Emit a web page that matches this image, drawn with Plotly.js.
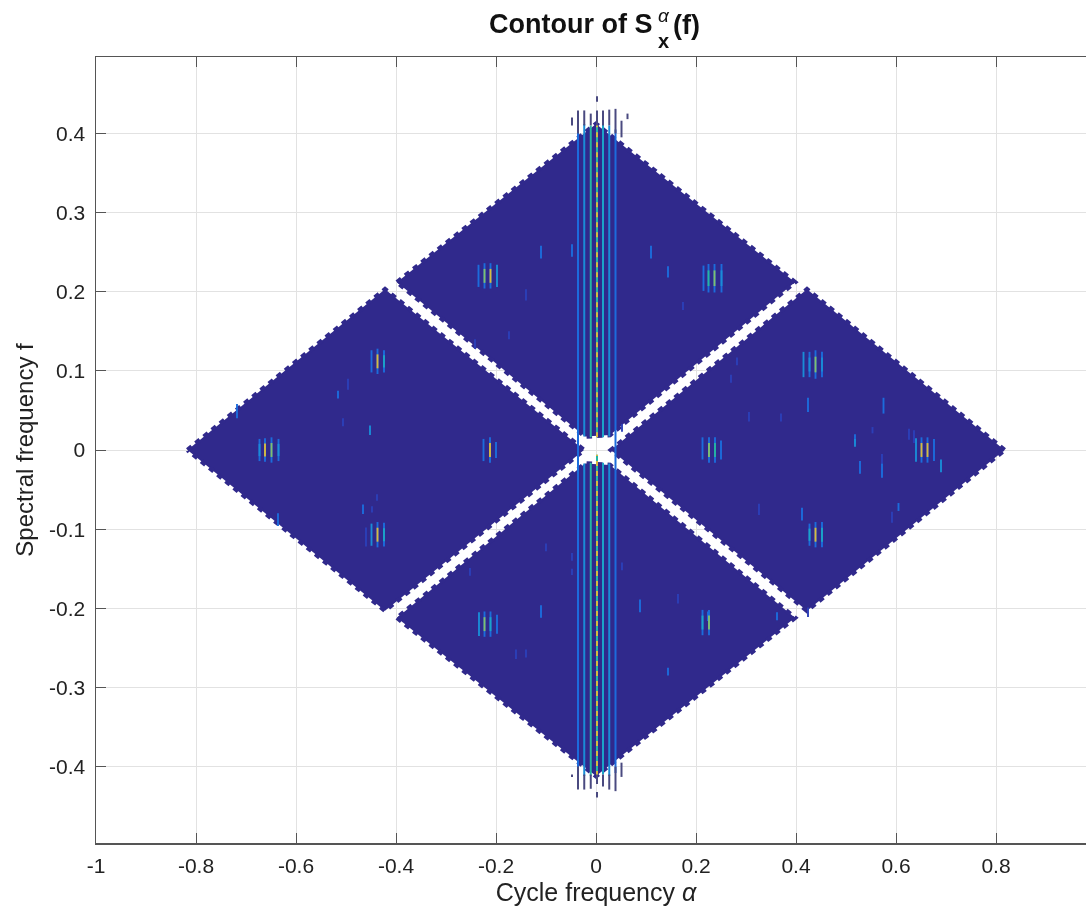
<!DOCTYPE html>
<html><head><meta charset="utf-8">
<script src="https://cdn.plot.ly/plotly-3.0.1.min.js"></script>
<style>html,body{margin:0;padding:0;background:#fff;overflow:hidden;width:1086px;height:911px}
#chart{filter:blur(0.45px)}</style>
</head><body><div id="chart"></div>
<script>
// tick labels
const xTicks = [-1,-0.8,-0.6,-0.4,-0.2,0,0.2,0.4,0.6,0.8];
const xLabels = ['-1','-0.8','-0.6','-0.4','-0.2','0','0.2','0.4','0.6','0.8'];
const yTicks = [-0.4,-0.3,-0.2,-0.1,0,0.1,0.2,0.3,0.4];
const yLabels = ['-0.4','-0.3','-0.2','-0.1','0','0.1','0.2','0.3','0.4'];

// the four diamond regions: alpha, f of their corners
const topAlpha = [-0.398,0.0,0.398,0.028,-0.022,-0.398];
const topF     = [0.212,0.412,0.212,0.019,0.017,0.212];
const botAlpha = [-0.398,0.0,0.398,0.028,-0.022,-0.398];
const botF     = [-0.212,-0.412,-0.212,-0.019,-0.017,-0.212];
const leftAlpha  = [-0.817,-0.422,-0.024,-0.422,-0.817];
const leftF      = [0,0.203,0,-0.203,0];
const rightAlpha = [0.817,0.422,0.03,0.422,0.817];
const rightF     = [0,0.203,0,-0.203,0];

// parula colour stops used for the spectrum level (0..1)
const levelStops = [[0,'#30298c'],[0.15,'#2c3fb8'],[0.3,'#1c6cdc'],[0.4,'#1a8cd6'],[0.5,'#1ba4c8'],[0.6,'#25b5a2'],[0.7,'#7fbf70'],[0.8,'#d8ba3f'],[0.9,'#f4bb3a'],[1,'#f9f320']];

// short spectral lines: alpha, f centre, half height in f, level
const spotAlpha = [
 -0.673,-0.662,-0.649,-0.635, -0.449,-0.437,-0.424, -0.449,-0.437,-0.424,-0.46,
 -0.235,-0.223,-0.211,-0.198, -0.234,-0.223,-0.211,-0.198, -0.225,-0.212,-0.2,
 0.215,0.225,0.237,0.251, 0.213,0.226,0.238,0.25, 0.213,0.226,
 0.415,0.427,0.439,0.452, 0.427,0.439,0.452, 0.64,0.651,0.663,0.676,0.626,0.69,
 -0.11,-0.048,0.11,0.144,0.282,0.326,0.412,0.424,0.306,0.052,0.37,
 0.518,0.518,0.528,0.572,0.592,0.605,0.575,0.636,0.553,0.572,
 -0.718,-0.636,-0.516,-0.496,-0.506,-0.452,-0.466,-0.448,-0.438,
 -0.242,-0.14,-0.174,-0.252,-0.048,-0.1,-0.16,-0.14,-0.11,
 0.052,0.088,0.164,0.424,0.362,0.224,0.174,0.27,-0.048,0.144
];
const spotF = [
 0,0,0,0, 0.112,0.112,0.112, -0.107,-0.107,-0.107,-0.11,
 0.22,0.22,0.22,0.22, -0.22,-0.22,-0.22,-0.22, 0,0,0,
 0.217,0.217,0.217,0.217, 0.002,0,0,0, -0.218,-0.218,
 0.108,0.108,0.108,0.108, -0.107,-0.107,-0.107, 0,0,0,0,0.02,-0.02,
 0.25,0.252,0.25,0.225,0.112,-0.075,-0.081,0.057,0.042,0.028,0.041,
 0.014,0.009,-0.022,-0.026,-0.085,-0.072,0.056,0.017,0.025,-0.011,
 0.049,-0.088,0.07,0.083,0.035,0.025,-0.075,-0.075,-0.06,
 0.134,0.196,0.145,-0.154,-0.154,-0.123,-0.258,-0.257,-0.204,
 -0.147,-0.197,-0.188,-0.205,-0.21,-0.21,0.182,0.09,-0.135,-0.28
];
const spotHalf = [
 0.014,0.015,0.016,0.014, 0.014,0.016,0.014, 0.014,0.016,0.015,0.012,
 0.014,0.016,0.016,0.014, 0.015,0.016,0.016,0.012, 0.014,0.016,0.01,
 0.016,0.018,0.018,0.018, 0.014,0.016,0.016,0.012, 0.016,0.016,
 0.016,0.016,0.018,0.016, 0.014,0.016,0.016, 0.015,0.016,0.016,0.014,0.007,0.008,
 0.008,0.008,0.008,0.007,0.005,0.007,0.008,0.009,0.006,0.005,0.005,
 0.006,0.005,0.008,0.009,0.007,0.005,0.01,0.008,0.004,0.006,
 0.009,0.008,0.005,0.007,0.005,0.006,0.006,0.004,0.004,
 0.006,0.007,0.005,0.005,0.004,0.005,0.006,0.005,0.008,
 0.005,0.008,0.006,0.006,0.005,0.006,0.005,0.005,0.005,0.005
];
const spotLevel = [
 0.4,0.78,0.68,0.42, 0.35,0.78,0.5, 0.36,0.78,0.5,0.2,
 0.3,0.72,0.82,0.36, 0.36,0.72,0.5,0.26, 0.34,0.8,0.3,
 0.26,0.56,0.74,0.42, 0.32,0.75,0.62,0.25, 0.52,0.66,
 0.36,0.42,0.72,0.42, 0.46,0.78,0.5, 0.36,0.82,0.76,0.32,0.22,0.36,
 0.3,0.3,0.28,0.25,0.2,0.18,0.3,0.3,0.2,0.15,0.15,
 0.35,0.36,0.3,0.3,0.18,0.3,0.28,0.2,0.2,0.2,
 0.3,0.35,0.3,0.16,0.16,0.36,0.26,0.16,0.2,
 0.16,0.2,0.15,0.16,0.18,0.16,0.2,0.22,0.3,
 0.16,0.3,0.2,0.15,0.3,0.3,0.22,0.2,0.2,0.28
];

// the seven central vertical lines
const stripeAlpha = [-0.036,-0.0235,-0.0105,0.002,0.014,0.0265,0.039];
const stripeLevel = [0.3,0.42,0.56,0.6,0.52,0.44,0.32];
const stripeTop    = [0.405,0.412,0.41,0.412,0.412,0.41,0.405];
const stripeBottom = [-0.405,-0.412,-0.412,-0.412,-0.41,-0.412,-0.408];
const stripeGapTop    = [0,0.017,0.016,0.016,0.016,0.017,0];
const stripeGapBottom = [0,-0.017,-0.016,-0.006,-0.016,-0.017,0];

// dark tips that stick out past the diamond's top and bottom
const tipAlpha = [-0.036,-0.0235,-0.0105,0.002,0.002,0.014,0.0265,0.039,0.051,0.063,-0.048,
                  -0.036,-0.0235,-0.0105,0.002,0.002,0.014,0.0265,0.039,0.051,-0.048];
const tipStart = [0.4,0.41,0.41,0.41,0.44,0.41,0.41,0.4,0.395,0.418,0.41,
                  -0.4,-0.41,-0.41,-0.41,-0.432,-0.41,-0.41,-0.4,-0.395,-0.41];
const tipEnd   = [0.429,0.429,0.425,0.429,0.447,0.429,0.43,0.431,0.416,0.425,0.42,
                  -0.429,-0.429,-0.428,-0.422,-0.439,-0.425,-0.429,-0.431,-0.413,-0.413];

const GD = document.getElementById('chart');
const levelColor = v => {
  let best = levelStops[0];
  levelStops.forEach(s => { if (Math.abs(s[0]-v) < Math.abs(best[0]-v)) best = s; });
  return best[1];
};
const traces = [];
const fillColor = '#30298c';
[[topAlpha,topF],[botAlpha,botF],[leftAlpha,leftF],[rightAlpha,rightF]].forEach(p => {
  traces.push({type:'scatter',x:p[0],y:p[1],mode:'lines',fill:'toself',fillcolor:fillColor,
    line:{color:fillColor,width:4.6,dash:'5.5px,5px'},hoverinfo:'skip',showlegend:false});
});
// spots grouped by colour: a long dim body and a short bright core
const groups = {};
const addSpot = (c,a,f0,f1) => {
  (groups[c] = groups[c] || {x:[],y:[]});
  groups[c].x.push(a,a,null);
  groups[c].y.push(f0,f1,null);
};
spotAlpha.forEach((a,i) => {
  const v = spotLevel[i], f = spotF[i], h = spotHalf[i];
  if (v >= 0.4) {
    addSpot(levelColor(0.3),a,f-h,f+h);
    addSpot(levelColor(v),a,f-h*0.55,f+h*0.55);
  } else addSpot(levelColor(v),a,f-h,f+h);
});
levelStops.map(s=>s[1]).forEach(c => {
  if (groups[c]) traces.push({type:'scatter',x:groups[c].x,y:groups[c].y,mode:'lines',
    line:{color:c,width:1.9},hoverinfo:'skip',showlegend:false});
});
// stripes
stripeAlpha.forEach((a,i) => {
  const xs=[], ys=[];
  if (stripeGapTop[i] !== 0) { xs.push(a,a,null,a,a); ys.push(stripeBottom[i],stripeGapBottom[i],null,stripeGapTop[i],stripeTop[i]); }
  else { xs.push(a,a); ys.push(stripeBottom[i],stripeTop[i]); }
  traces.push({type:'scatter',x:xs,y:ys,mode:'lines',line:{color:levelColor(stripeLevel[i]),width:2},hoverinfo:'skip',showlegend:false});
  if (i===3) traces.push({type:'scatter',x:xs,y:ys,mode:'lines',line:{color:'#d8ba3f',width:2,dash:'5px,5px'},hoverinfo:'skip',showlegend:false});
});
// tips
const tx=[],ty=[];
tipAlpha.forEach((a,i)=>{tx.push(a,a,null);ty.push(tipStart[i],tipEnd[i],null);});
traces.push({type:'scatter',x:tx,y:ty,mode:'lines',line:{color:'#4a4a80',width:2},hoverinfo:'skip',showlegend:false});

const FONT = 'Liberation Sans, Arial, sans-serif';
const axisBase = {showgrid:true,gridcolor:'#e2e2e2',gridwidth:1,zeroline:false,showline:true,linecolor:'#555',linewidth:1.5,
  mirror:'ticks',ticks:'inside',ticklen:10,tickwidth:1,tickcolor:'#555',tickfont:{family:FONT,size:21,color:'#222'},tickmode:'array'};
const W = 1110, PW = 1000, PH = 786;
const px = v => (v-96)/PW;
const py = v => 1+(57-v)/PH;
Plotly.newPlot(GD,traces,{
  width:W,height:911,paper_bgcolor:'#fff',plot_bgcolor:'#fff',showlegend:false,
  margin:{l:96,r:14,t:57,b:68},
  title:{text:'<b>Contour of S</b>',x:489/W,xanchor:'left',y:0.9745,yanchor:'middle',font:{family:FONT,size:27,color:'#111'}},
  xaxis:Object.assign({},axisBase,{range:[-1,1],tickvals:xTicks,ticktext:xLabels,ticklabelstandoff:3,
    title:{text:'Cycle frequency <i>α</i>',font:{family:FONT,size:25,color:'#222'},standoff:8}}),
  yaxis:Object.assign({},axisBase,{range:[-0.4965,0.4965],tickvals:yTicks,ticktext:yLabels,ticklabelstandoff:5,
    title:{text:'Spectral frequency f',font:{family:FONT,size:24,color:'#222'},standoff:8}}),
  annotations:[
    {xref:'paper',yref:'paper',x:px(664),y:py(15),yanchor:'middle',text:'<i>α</i>',showarrow:false,font:{family:FONT,size:19,color:'#111'}},
    {xref:'paper',yref:'paper',x:px(663),y:py(41),yanchor:'middle',text:'<b>x</b>',showarrow:false,font:{family:FONT,size:20,color:'#111'}},
    {xref:'paper',yref:'paper',x:px(686),y:py(25),yanchor:'middle',text:'<b>(f)</b>',showarrow:false,font:{family:FONT,size:27,color:'#111'}}
  ]
},{displayModeBar:false,staticPlot:true});
</script></body></html>
